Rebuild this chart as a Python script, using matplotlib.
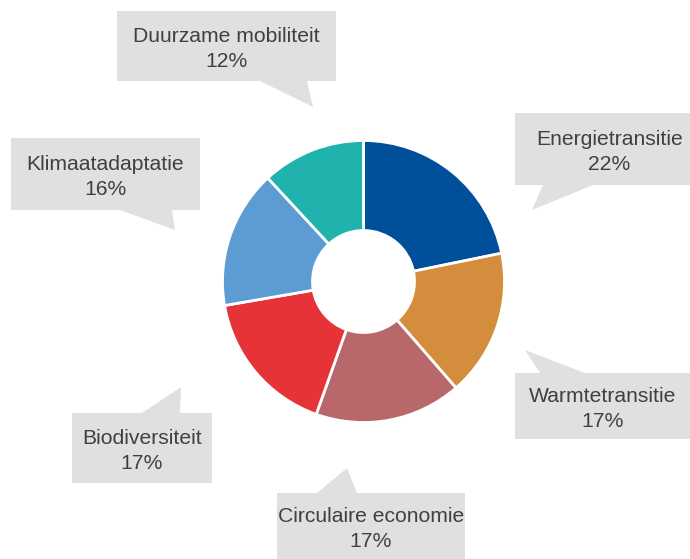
import matplotlib.pyplot as plt
from matplotlib.patches import Polygon

plt.rcParams['font.family'] = ['Liberation Sans', 'DejaVu Sans']

# data
labels = ["Energietransitie", "Warmtetransitie", "Circulaire economie",
          "Biodiversiteit", "Klimaatadaptatie", "Duurzame mobiliteit"]
shares = [22, 17, 17, 17, 16, 12]
colors = ["#004f9b", "#d48d3c", "#b8676b", "#e63338", "#5d9bd3", "#20b3ae"]

W, H = 690, 559

# callout layout in pixels (y down): box x0, y0, x1, y1, tail side, base a, base b, tip x, tip y
callouts = [
    (515, 113, 704, 185, "bottom", 543, 593, 532, 210),
    (515, 373, 690, 439, "top", 540, 585, 525, 350),
    (277, 493, 465, 571, "top", 317, 357, 347, 468),
    (72, 413, 212, 483, "top", 142, 180, 181, 387),
    (11, 138, 200, 210, "bottom", 120, 172, 175, 230),
    (117, 11, 336, 81, "bottom", 260, 307, 313, 107),
]

fig = plt.figure(figsize=(W / 100, H / 100), dpi=100)
ax = fig.add_axes([0, 0, 1, 1])

cx, cy, r_out, r_in = 363.5, H - 281.5, 141, 51
ax.pie(shares, colors=colors, startangle=90, counterclock=False,
       radius=r_out, center=(cx, cy),
       wedgeprops=dict(width=r_out - r_in, edgecolor="white", linewidth=2))


def fy(y):
    return H - y


for (x0, y0, x1, y1, side, b1, b2, tx, ty), name, val in zip(callouts, labels, shares):
    if side == "bottom":
        pts = [(x0, y0), (x1, y0), (x1, y1), (b2, y1), (tx, ty), (b1, y1), (x0, y1)]
    else:
        pts = [(x0, y0), (b1, y0), (tx, ty), (b2, y0), (x1, y0), (x1, y1), (x0, y1)]
    ax.add_patch(Polygon([(px, fy(py)) for px, py in pts], closed=True,
                         facecolor="#e0e0e0", edgecolor="none", zorder=3))
    ax.text((x0 + x1) / 2, fy((y0 + min(y1, H)) / 2 + 3), f"{name}\n{val}%",
            ha="center", va="center", fontsize=15.2, color="#404040",
            linespacing=1.4, zorder=4)

ax.set_xlim(0, W)
ax.set_ylim(0, H)
ax.set_aspect("equal")
ax.axis("off")

fig.savefig("out.png", dpi=100)
